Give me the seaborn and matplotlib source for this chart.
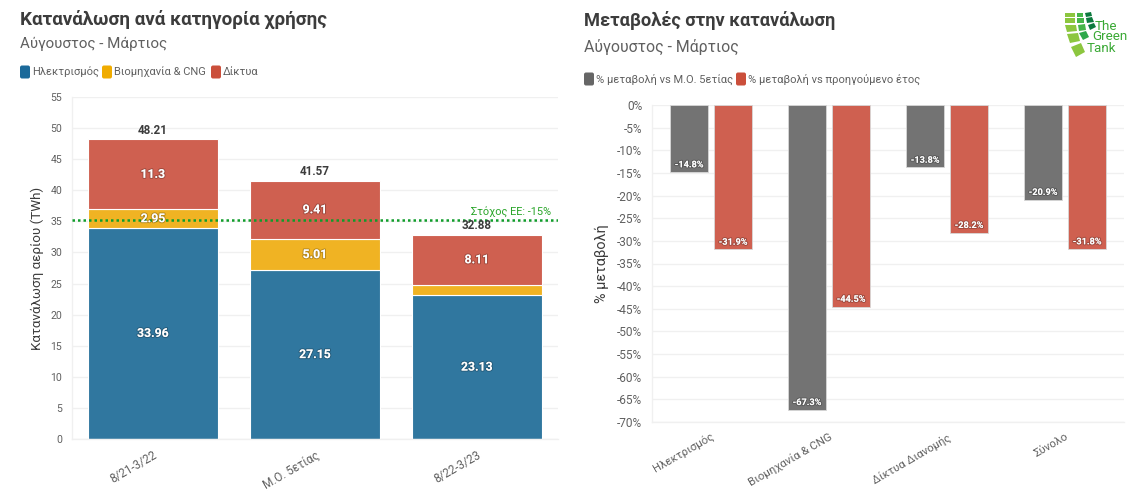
import numpy as np
import pandas as pd
import seaborn as sns
import matplotlib.pyplot as plt
import matplotlib.patheffects as pe
from matplotlib.patches import FancyBboxPatch, Polygon

sns.set_theme(style='white')
plt.rcParams['font.family'] = ['Roboto', 'DejaVu Sans']

W, H = 1136, 493

periods = ['8/21-3/22', 'Μ.Ο. 5ετίας', '8/22-3/23']
electricity = [33.96, 27.15, 23.13]
industry = [2.95, 5.01, 1.64]
networks = [11.3, 9.41, 8.11]
totals = ['48.21', '41.57', '32.88']
stack_names = ['Ηλεκτρισμός', 'Βιομηχανία & CNG', 'Δίκτυα']

change_cats = ['Ηλεκτρισμός', 'Βιομηχανία & CNG', 'Δίκτυα Διανομής', 'Σύνολο']
vs_5y = [-14.8, -67.3, -13.8, -20.9]
vs_prev = [-31.9, -44.5, -28.2, -31.8]
change_names = ['% μεταβολή vs Μ.Ο. 5ετίας', '% μεταβολή vs προηγούμενο έτος']

BLUE, YELLOW, RED, GREY = '#30779f', '#f0b323', '#cf6050', '#737373'
GRID = '#f0f0f0'
TXT = '#606060'
DARK = '#3c3c3c'
shadow = [pe.withStroke(linewidth=1.5, foreground='#00000038')]


def ax_px(x0, y0, x1, y1):
    # pixel box, y measured from the top of the picture
    return fig.add_axes([x0 / W, 1 - y1 / H, (x1 - x0) / W, (y1 - y0) / H])


def ftext(x, y, s, **kw):
    fig.text(x / W, 1 - y / H, s, va='center', **kw)


def legend_items(items, y):
    for x, col, label in items:
        over.add_patch(FancyBboxPatch((x + 2, y - 4.5), 6, 9, boxstyle='round,pad=2', color=col, lw=0))
        ftext(x + 12, y, label, fontsize=8.0, color=TXT)


def style_axes(ax):
    ax.grid(axis='y', color=GRID, lw=1)
    ax.set_axisbelow(True)
    for s in ['top', 'right']:
        ax.spines[s].set_visible(False)
    for s in ['left', 'bottom']:
        ax.spines[s].set_color(GRID)
        ax.spines[s].set_linewidth(1)
    ax.tick_params(axis='both', length=4, color=GRID, labelcolor=TXT, pad=3)


fig = plt.figure(figsize=(W / 100, H / 100), dpi=100)

# left chart, stacked bars
ax = ax_px(72, 97, 558, 439)
stack_df = pd.DataFrame({'period': periods, 'el': electricity, 'ind': industry, 'net': networks})
bottom = np.zeros(3)
for col, color in zip(['el', 'ind', 'net'], [BLUE, YELLOW, RED]):
    sns.barplot(data=stack_df, x='period', y=col, color=color, saturation=1, width=0.8,
                bottom=bottom, edgecolor='white', linewidth=0.8, ax=ax)
    bottom = bottom + stack_df[col].to_numpy()

for i in range(3):
    ax.text(i, electricity[i] / 2, f'{electricity[i]:.2f}', ha='center', va='center', color='white',
            fontsize=8.8, fontweight='bold', path_effects=shadow, zorder=6)
    if industry[i] > 2:
        ax.text(i, electricity[i] + industry[i] / 2, f'{industry[i]:.2f}', ha='center', va='center',
                color='white', fontsize=8.8, fontweight='bold', path_effects=shadow, zorder=6)
    ax.text(i, electricity[i] + industry[i] + networks[i] / 2, f'{networks[i]:g}' if i == 0 else f'{networks[i]:.2f}',
            ha='center', va='center', color='white', fontsize=8.8, fontweight='bold', path_effects=shadow, zorder=6)
    ax.text(i, bottom[i] + 0.35, totals[i], ha='center', va='bottom', color=DARK, fontsize=8.4,
            fontweight='bold', zorder=6)

ax.axhline(35.2, color='#0f9d2a', ls=(0, (1, 1.2)), lw=1.8, zorder=5)
ax.text(2.46, 35.6, 'Στόχος ΕΕ: -15%', ha='right', va='bottom', color='#2aa52a', fontsize=7.9)
ax.set_xlim(-0.5, 2.5)
ax.set_ylim(0, 55)
ax.set_yticks(range(0, 56, 5))
style_axes(ax)
ax.tick_params(axis='y', labelsize=7.6)
ax.tick_params(axis='x', labelsize=8.4)
plt.setp(ax.get_xticklabels(), rotation=30, ha='right', rotation_mode='anchor')
ax.set_xlabel('')
ax.set_ylabel('Κατανάλωση αερίου (TWh)', fontsize=9.6, color=DARK, labelpad=5)

# right chart, grouped bars
ax2 = ax_px(652, 105, 1124, 422)
change_df = pd.DataFrame({'cat': change_cats * 2, 'value': vs_5y + vs_prev,
                          'kind': [change_names[0]] * 4 + [change_names[1]] * 4})
sns.barplot(data=change_df, x='cat', y='value', hue='kind', palette=[GREY, RED], saturation=1,
            width=0.746, gap=0.136, edgecolor='#d8d8d8', linewidth=0.6, legend=False, ax=ax2)
for bars in ax2.containers:
    for b in bars:
        v = b.get_height()
        ax2.text(b.get_x() + b.get_width() / 2, v + 0.6, f'{v:.1f}%', ha='center', va='bottom',
                 color='white', fontsize=6.6, fontweight='bold', path_effects=shadow)
ax2.set_xlim(-0.5, 3.5)
ax2.set_ylim(-70, 0)
ax2.set_yticks(range(-70, 1, 5))
ax2.set_yticklabels([f'{v}%' for v in range(-70, 1, 5)])
style_axes(ax2)
ax2.tick_params(axis='y', labelsize=8.6)
ax2.tick_params(axis='x', labelsize=8.2)
plt.setp(ax2.get_xticklabels(), rotation=30, ha='right', rotation_mode='anchor')
ax2.set_xlabel('')
ax2.set_ylabel('% μεταβολή', fontsize=10.4, color=DARK, labelpad=6)

# overlay in pixel coordinates for legend swatches and logo
over = fig.add_axes([0, 0, 1, 1], facecolor='none')
over.set_xlim(0, W)
over.set_ylim(H, 0)
over.axis('off')

# titles and legends
ftext(20, 19, 'Κατανάλωση ανά κατηγορία χρήσης', fontsize=13.6, fontweight='bold', color=DARK)
ftext(20, 44, 'Αύγουστος - Μάρτιος', fontsize=10.9, color=TXT)
legend_items([(20, '#1b6a9a', stack_names[0]), (102, '#f0ac00', stack_names[1]), (211, '#cb4f3b', stack_names[2])], 72)

ftext(584, 20, 'Μεταβολές στην κατανάλωση', fontsize=13.15, fontweight='bold', color=DARK)
ftext(584, 47, 'Αύγουστος - Μάρτιος', fontsize=11.4, color=TXT)
legend_items([(584, '#666666', change_names[0]), (736, '#cb4f3b', change_names[1])], 79)

# logo
tiles = [[(1065, 13), (1075, 13), (1075, 17), (1065, 17), '#8cc63f'],
         [(1065, 18), (1075, 18), (1075, 23), (1065, 23), '#8cc63f'],
         [(1065, 25), (1076, 25), (1077, 31), (1067, 32), '#8cc63f'],
         [(1067, 34), (1078, 33), (1080, 41), (1070, 43), '#8cc63f'],
         [(1071, 47), (1081, 43), (1085, 52), (1076, 57), '#8cc63f'],
         [(1077, 13), (1083, 13), (1083, 17), (1077, 17), '#45b549'],
         [(1077, 18), (1084, 18), (1084, 23), (1077, 23), '#45b549'],
         [(1078, 25), (1085, 24), (1086, 30), (1079, 31), '#45b549'],
         [(1079, 33), (1086, 31), (1089, 37), (1083, 40), '#2ea84a'],
         [(1085, 13), (1091, 12), (1092, 16), (1086, 17), '#0c7a3e'],
         [(1086, 18), (1092, 17), (1094, 22), (1087, 23), '#0c7a3e'],
         [(1088, 25), (1094, 23), (1096, 27), (1090, 30), '#0c7a3e']]
for t in tiles:
    over.add_patch(Polygon(t[:4], color=t[4], lw=0))
for x, y, s in [(1095, 26, 'The'), (1092, 37, 'Green'), (1087, 48, 'Tank')]:
    over.text(x, y, s, color='#3aa935', fontsize=9.6, va='center')

fig.savefig('out.png', dpi=100, facecolor='white')
